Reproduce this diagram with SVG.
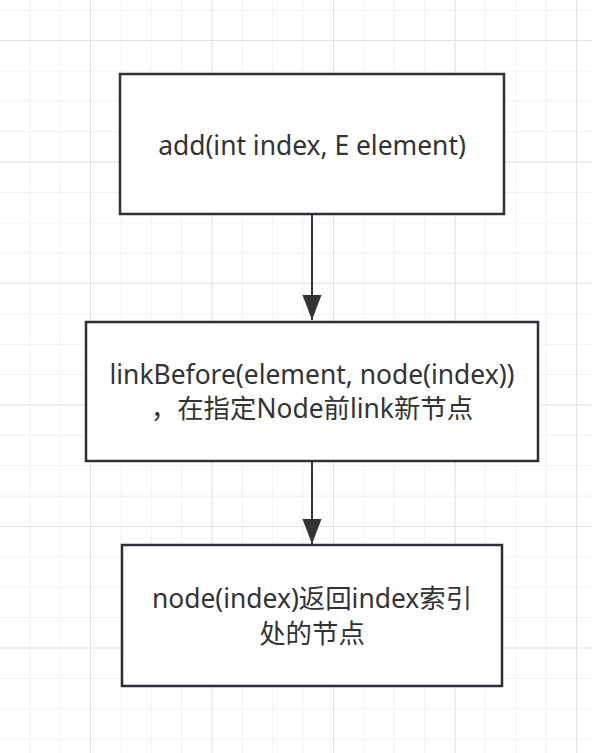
<svg xmlns="http://www.w3.org/2000/svg" width="592" height="753" viewBox="0 0 592 753">
<defs>
<pattern id="minor" x="-1.125" y="9.625" width="30.375" height="30.375" patternUnits="userSpaceOnUse">
<path d="M0 0H30.375M0 0V30.375" fill="none" stroke="#f0f0f0" stroke-width="2"/>
</pattern>
<pattern id="major" x="-31.5" y="-81.5" width="121.5" height="121.5" patternUnits="userSpaceOnUse">
<path d="M0 0H121.5M0 0V121.5" fill="none" stroke="#e3e3e3" stroke-width="2"/>
</pattern>
<marker id="arrow" markerUnits="userSpaceOnUse" markerWidth="26" markerHeight="20" refX="25" refY="10" orient="auto" viewBox="0 0 26 20">
<path d="M0 0.5L25 10L0 19.5Z" fill="#333"/>
</marker>
<style>
.box{fill:#fff;stroke:#2b3036;stroke-width:2.5}
.t{font-family:"Noto Sans","Noto Sans CJK SC",sans-serif;font-size:26.4px;fill:#333;text-anchor:middle}
.edge{fill:none;stroke:#333;stroke-width:2}
</style>
</defs>
<rect width="592" height="753" fill="#fff"/>
<rect width="592" height="753" fill="url(#minor)"/>
<rect width="592" height="753" fill="url(#major)"/>
<g id="connectors">
<path class="edge" d="M312 214V320" marker-end="url(#arrow)"/>
<path class="edge" d="M312 461V544" marker-end="url(#arrow)"/>
</g>
<g id="node-add">
<rect class="box" x="120" y="74" width="384" height="140"/>
<text class="t" x="312" y="155">add(int index, E element)</text>
</g>
<g id="node-linkBefore">
<rect class="box" x="86" y="322" width="452" height="139"/>
<text class="t" x="312" y="384">linkBefore(element, node(index))</text>
<text class="t" x="312" y="418">，在指定Node前link新节点</text>
</g>
<g id="node-node">
<rect class="box" x="122" y="545" width="380" height="141"/>
<text class="t" x="312" y="608">node(index)返回index索引</text>
<text class="t" x="312" y="643">处的节点</text>
</g>
</svg>
